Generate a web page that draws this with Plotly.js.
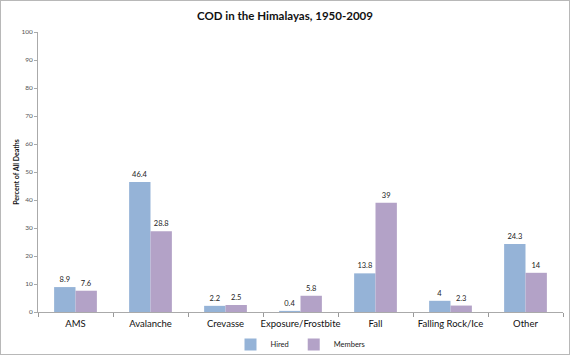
<!DOCTYPE html>
<html><head><meta charset="utf-8">
<script src="https://cdn.plot.ly/plotly-3.0.1.min.js"></script>
<style>html,body{margin:0;padding:0;background:#fff}#c{width:568px;height:353px;border:1px solid #b8b8b8}</style>
</head><body><div id="c"></div>
<script>
const categories = ["AMS","Avalanche","Crevasse","Exposure/Frostbite","Fall","Falling Rock/Ice","Other"];
const hired = [8.9,46.4,2.2,0.4,13.8,4,24.3];
const members = [7.6,28.8,2.5,5.8,39,2.3,14];
const yTicks = [0,10,20,30,40,50,60,70,80,90,100];
const F = "Lato, Open Sans, sans-serif";
const mk = (name, y, color) => ({type:"bar", name, x:categories, y, marker:{color},
  text:y.map(String), textposition:"outside", cliponaxis:false,
  textfont:{size:7.5,color:"#222",family:F}});
Plotly.newPlot("c",[mk("Hired",hired,"#95B3D7"), mk("Members",members,"#B3A2C7")],{
  width:568,height:353,margin:{l:37,r:6,t:31,b:42,autoexpand:false},
  paper_bgcolor:"#fff",plot_bgcolor:"#fff",
  barmode:"group",bargap:0.43,bargroupgap:0,
  title:{text:"<b>COD in the Himalayas, 1950-2009</b>",x:0.5,xanchor:"center",y:0.957,yanchor:"middle",font:{size:11.5,family:F,color:"#111"}},
  font:{family:F},
  xaxis:{type:"category",tickson:"boundaries",ticks:"outside",ticklen:4,tickcolor:"#999",tickangle:0,automargin:false,
    ticklabelstandoff:3,
    showline:true,linecolor:"#aaa",tickfont:{size:9.5,color:"#111",family:F},showgrid:false},
  yaxis:{range:[0,100],tickvals:yTicks,ticks:"outside",ticklen:3,tickcolor:"#aaa",automargin:false,
    showline:true,linecolor:"#aaa",showgrid:false,zeroline:false,
    tickfont:{size:6.5,color:"#555",family:F},
    title:{text:"<b>Percent of All Deaths</b>",standoff:0,font:{size:7,color:"#111",family:F}}},
  showlegend:true,
  legend:{orientation:"h",x:0.5,xanchor:"center",y:-0.064,yanchor:"top",font:{size:7.5,color:"#222",family:F},itemwidth:20,tracegroupgap:0}
},{displayModeBar:false,staticPlot:true});
</script></body></html>
